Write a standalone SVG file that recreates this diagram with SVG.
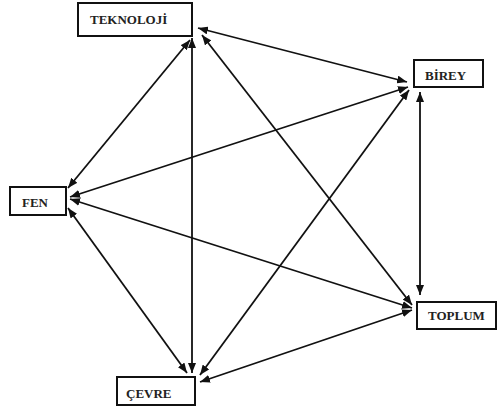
<svg xmlns="http://www.w3.org/2000/svg" width="500" height="409" viewBox="0 0 500 409">
<style>
.box{fill:#fff;stroke:#111;stroke-width:2}
.lbl{font-family:"Liberation Serif","Times New Roman",serif;font-weight:bold;font-size:13px;fill:#222}
.edge{stroke:#111;stroke-width:1.8;fill:none;marker-start:url(#ah);marker-end:url(#ah)}
</style>
<defs>
<marker id="ah" viewBox="0 0 10 8" refX="10" refY="4" markerWidth="10" markerHeight="8" markerUnits="userSpaceOnUse" orient="auto-start-reverse">
<path d="M0,0 L10,4 L0,8 Z" fill="#111"/>
</marker>
</defs>
<rect width="500" height="409" fill="#fff"/>
<g id="connectors">
<line class="edge" x1="198" y1="28" x2="407" y2="82"/>
<line class="edge" x1="190" y1="40" x2="68" y2="188"/>
<line class="edge" x1="192" y1="38" x2="192" y2="373"/>
<line class="edge" x1="202" y1="35" x2="412" y2="305"/>
<line class="edge" x1="408" y1="87" x2="70" y2="197"/>
<line class="edge" x1="409" y1="90" x2="200" y2="375"/>
<line class="edge" x1="420" y1="92" x2="420" y2="295"/>
<line class="edge" x1="70" y1="199" x2="412" y2="308"/>
<line class="edge" x1="68" y1="208" x2="187" y2="373"/>
<line class="edge" x1="412" y1="310" x2="200" y2="382"/>
</g>
<g id="teknoloji">
<rect class="box" x="78" y="3" width="114" height="33"/>
<text class="lbl" x="90" y="24">TEKNOLOJİ</text>
</g>
<g id="birey">
<rect class="box" x="414" y="60" width="69" height="27"/>
<text class="lbl" x="425" y="80">BİREY</text>
</g>
<g id="fen">
<rect class="box" x="10" y="187" width="56" height="28"/>
<text class="lbl" x="22" y="207">FEN</text>
</g>
<g id="toplum">
<rect class="box" x="417" y="302" width="79" height="27"/>
<text class="lbl" x="428" y="320">TOPLUM</text>
</g>
<g id="cevre">
<rect class="box" x="117" y="377" width="78" height="28"/>
<text class="lbl" x="126" y="398">ÇEVRE</text>
</g>
</svg>
